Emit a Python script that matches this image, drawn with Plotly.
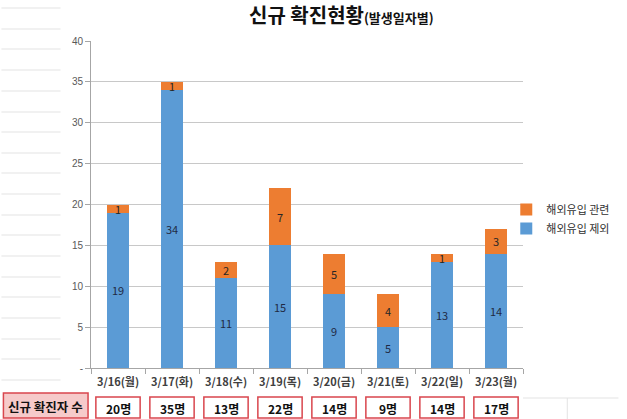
import plotly.graph_objects as go

categories = ["3/16(월)", "3/17(화)", "3/18(수)", "3/19(목)", "3/20(금)", "3/21(토)", "3/22(일)", "3/23(월)"]
domestic = [19, 34, 11, 15, 9, 5, 13, 14]      # 해외유입 제외
overseas = [1, 1, 2, 7, 5, 4, 1, 3]            # 해외유입 관련
totals = [a + b for a, b in zip(domestic, overseas)]
y_ticks = [0, 5, 10, 15, 20, 25, 30, 35, 40]
y_ticktext = ["-"] + [str(v) for v in y_ticks[1:]]

FONT = "Noto Sans CJK KR"
BLUE = "#5B9BD5"
ORANGE = "#ED7D31"

W, H = 627, 419
ML, MR, MT, MB = 91, 97, 41, 51
PW, PH = W - ML - MR, H - MT - MB


def px_x(x):
    return (x - ML) / PW


def px_y(y):
    return (H - MB - y) / PH


fig = go.Figure()
fig.add_trace(go.Bar(
    x=categories, y=domestic, name="해외유입 제외",
    marker=dict(color=BLUE, line=dict(width=0)),
    text=[str(v) for v in domestic], textposition="inside", insidetextanchor="middle",
    textangle=0, cliponaxis=False,
    textfont=dict(family=FONT, size=11, color="#1F2A44"),
))
fig.add_trace(go.Bar(
    x=categories, y=overseas, name="해외유입 관련",
    marker=dict(color=ORANGE, line=dict(width=0)),
    text=[str(v) for v in overseas], textposition="inside", insidetextanchor="middle",
    textangle=0, cliponaxis=False,
    textfont=dict(family=FONT, size=11, color="#262626"),
))

shapes = []
annotations = []

# faint spreadsheet cell lines in the background
for yy in [8, 29, 49, 70, 91, 112, 132, 153, 173, 194, 215, 235, 256, 277, 297, 318, 339, 359, 380]:
    shapes.append(dict(type="line", xref="paper", yref="paper",
                       x0=px_x(0), x1=px_x(60), y0=px_y(yy), y1=px_y(yy),
                       line=dict(color="#E3E3E3", width=1), layer="below"))
shapes.append(dict(type="line", xref="paper", yref="paper",
                   x0=px_x(530), x1=px_x(627), y0=px_y(398), y1=px_y(398),
                   line=dict(color="#E3E3E3", width=1), layer="below"))
shapes.append(dict(type="line", xref="paper", yref="paper",
                   x0=px_x(575), x1=px_x(575), y0=px_y(398), y1=px_y(419),
                   line=dict(color="#E3E3E3", width=1), layer="below"))

# row header box
shapes.append(dict(type="rect", xref="paper", yref="paper",
                   x0=px_x(2), x1=px_x(88), y0=px_y(393), y1=px_y(418),
                   fillcolor="#F6CACA", line=dict(color="#D9464E", width=1.5)))
annotations.append(dict(xref="paper", yref="paper", x=px_x(45), y=px_y(406),
                        xanchor="center", yanchor="middle",
                        text="<b>신규 확진자 수</b>", showarrow=False,
                        font=dict(family=FONT, size=12.5, color="#111111")))

# total boxes
for i, t in enumerate(totals):
    shapes.append(dict(type="rect", xref="x", yref="paper",
                       x0=i - 0.41, x1=i + 0.41, y0=px_y(397), y1=px_y(418),
                       fillcolor="white", line=dict(color="#D9464E", width=1.5)))
    annotations.append(dict(xref="x", yref="paper", x=i, y=px_y(408),
                            xanchor="center", yanchor="middle",
                            text=f"<b>{t}명</b>", showarrow=False,
                            font=dict(family=FONT, size=12, color="#111111")))

# title
annotations.append(dict(xref="paper", yref="paper", x=px_x(346), y=px_y(15),
                        text="<b>신규 확진현황</b><b><span style='font-size:13px'>(발생일자별)</span></b>",
                        showarrow=False, xanchor="center", yanchor="middle",
                        font=dict(family=FONT, size=20, color="#111111")))

fig.update_layout(
    width=W, height=H,
    margin=dict(l=ML, r=MR, t=MT, b=MB, pad=0),
    paper_bgcolor="white", plot_bgcolor="white",
    barmode="stack", bargap=0.61,
    font=dict(family=FONT, size=11, color="#404040"),
    showlegend=True,
    legend=dict(x=px_x(513), y=px_y(195), xanchor="left", yanchor="top",
                traceorder="reversed", font=dict(family=FONT, size=11, color="#303030"),
                bgcolor="rgba(0,0,0,0)", itemwidth=30, tracegroupgap=0),
    shapes=shapes, annotations=annotations,
    uniformtext=dict(minsize=11, mode="show"),
)
fig.update_xaxes(
    type="category", showline=True, linecolor="#A6A6A6", linewidth=1,
    ticks="outside", tickson="boundaries", ticklen=5, tickcolor="#A6A6A6",
    tickvals=categories, ticktext=[f"<b>{c}</b>" for c in categories],
    tickfont=dict(family=FONT, size=11, color="#404040"),
    ticklabelstandoff=4,
    showgrid=False, fixedrange=True,
)
fig.update_yaxes(
    range=[0, 40], tickvals=y_ticks, ticktext=y_ticktext,
    showline=True, linecolor="#A6A6A6", linewidth=1,
    ticks="outside", ticklen=5, tickcolor="#A6A6A6",
    showgrid=True, gridcolor="#C8C8C8", gridwidth=1,
    tickfont=dict(family="Liberation Sans", size=10, color="#595959"),
    zeroline=False, fixedrange=True,
)

fig.write_html("out.html")
